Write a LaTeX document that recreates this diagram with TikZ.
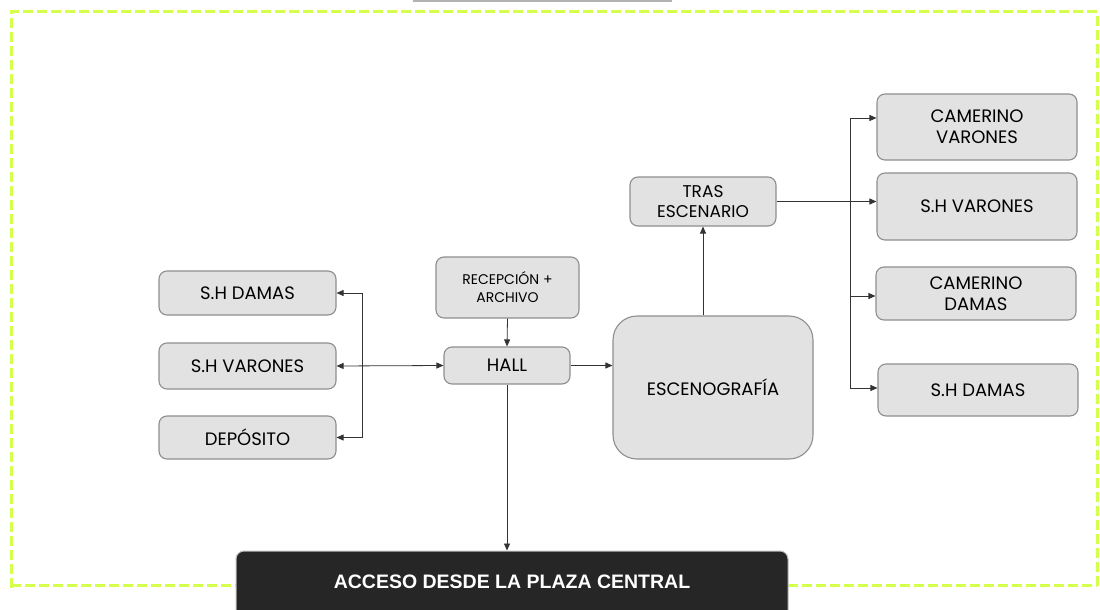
\documentclass[tikz,border=0pt]{standalone}
\usepackage{fontspec}
\setmainfont{Poppins}
\newfontfamily\accfont{Liberation Sans}
\usetikzlibrary{arrows.meta}
\definecolor{lime}{HTML}{D4FF4A}
\definecolor{boxfill}{HTML}{E2E2E2}
\definecolor{boxline}{HTML}{8E8E8E}
\definecolor{darkbox}{HTML}{262626}
\begin{document}
\begin{tikzpicture}[x=1pt,y=-1pt,
  room/.style={draw=boxline,fill=boxfill,line width=1.1pt,rounded corners=8pt,inner sep=0pt,align=center,font=\fontsize{18}{21}\selectfont},
  link/.style={draw=black!80,line width=0.8pt},
  tip/.style={-{Triangle[length=7pt,width=6pt]}},
  both/.style={{Triangle[length=7pt,width=6pt]}-{Triangle[length=7pt,width=6pt]}}]
\useasboundingbox (0,0) rectangle (1100,610);
% border
\draw[lime,line width=3pt,dash pattern=on 10pt off 4pt] (11,588) -- (11,12) -- (1097,12) -- (1097,588);
\draw[lime,line width=3pt,dash pattern=on 10pt off 4pt] (11,585) -- (236,585);
\draw[lime,line width=3pt,dash pattern=on 10pt off 4pt] (788,585) -- (1097,585);
\draw[gray!60,line width=1.5pt] (413,0.8) -- (672,0.8);
% nodes
\node[room,minimum width=177pt,minimum height=44pt] (shdl) at (247.5,293) {S.H DAMAS};
\node[room,minimum width=177pt,minimum height=46pt] (shvl) at (247.5,366) {S.H VARONES};
\node[room,minimum width=177pt,minimum height=43pt] (dep) at (247.5,437.5) {DEPÓSITO};
\node[room,minimum width=143pt,minimum height=61pt,font=\fontsize{14}{18}\selectfont] (rec) at (507.5,287.5) {RECEPCIÓN +\\ARCHIVO};
\node[room,minimum width=126pt,minimum height=37pt] (hall) at (507,365.5) {HALL};
\node[room,minimum width=200pt,minimum height=143pt,rounded corners=24pt] (esc) at (713,387.5) {ESCENOGRAFÍA};
\node[room,minimum width=146pt,minimum height=49pt,font=\fontsize{17}{20}\selectfont] (tras) at (703,201.5) {TRAS\\ESCENARIO};
\node[room,minimum width=200pt,minimum height=66pt] (camv) at (977,127) {CAMERINO\\VARONES};
\node[room,minimum width=200pt,minimum height=67pt] (shvr) at (977,206.5) {S.H VARONES};
\node[room,minimum width=200pt,minimum height=53pt] (camd) at (976,293.5) {CAMERINO\\DAMAS};
\node[room,minimum width=200pt,minimum height=52pt] (shdr) at (978,390) {S.H DAMAS};
\node[fill=darkbox,draw=gray!50,line width=1pt,rounded corners=8pt,minimum width=552pt,minimum height=70pt] (acc) at (512,586) {};
\node[text=white,font=\accfont\bfseries\fontsize{19.5}{22}\selectfont] (acct) at (512,582) {ACCESO DESDE LA PLAZA CENTRAL};
% junctions
\coordinate (jl) at (362,366);
\coordinate (jr) at (850,205);
% left connectors
\draw[link,both] (shvl.east) -- (hall.west);
\draw[link,tip] (jl) |- (shdl.east);
\draw[link,tip] (jl) |- (dep.east);
\draw[link,tip] (rec.south) -- (hall.north);
\draw[link,tip] (hall.east) -- (hall.east -| esc.west);
\draw[link,tip] (hall.south) -- (hall.south |- acc.north);
\draw[link,tip] (esc.north -| tras.south) -- (tras.south);
% right connectors
\draw[link,tip] (tras.east) -- (tras.east -| shvr.west);
\draw[link,tip] (jr) |- (850,118) -- (camv.west |- 0,118);
\draw[link,tip] (jr) |- (850,296) -- (camd.west |- 0,296);
\draw[link,tip] (850,296) |- (850,388) -- (shdr.west |- 0,388);
\end{tikzpicture}
\end{document}
